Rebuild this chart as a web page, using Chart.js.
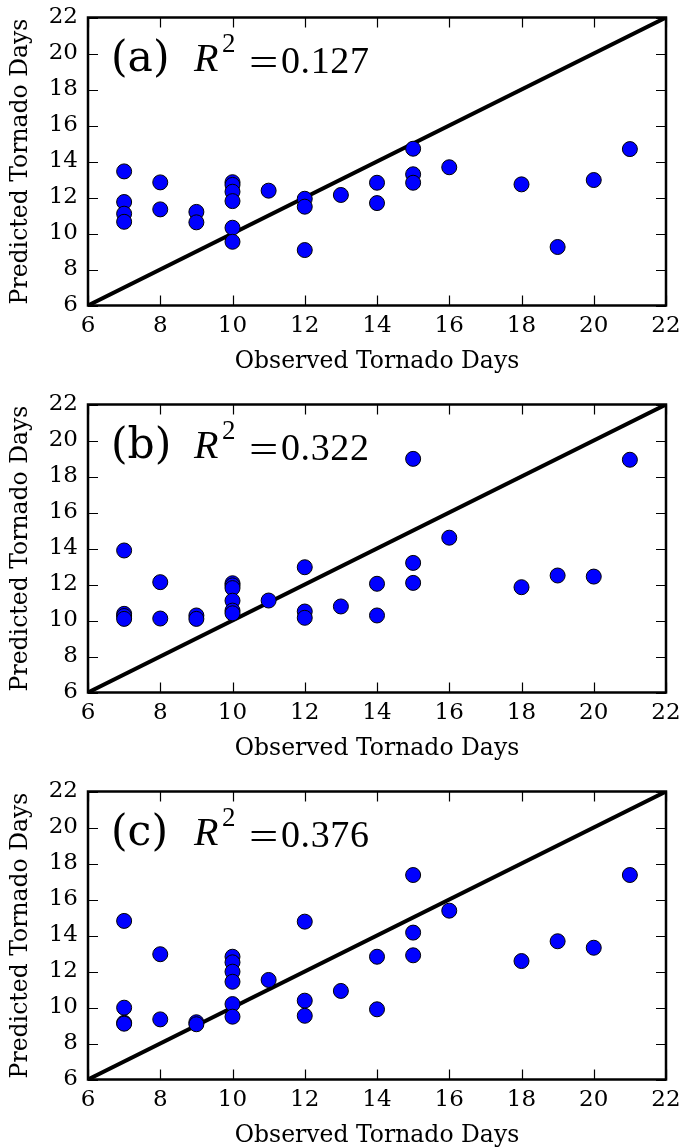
<!DOCTYPE html>
<html>
<head>
<meta charset="utf-8">
<script src="https://cdn.jsdelivr.net/npm/chart.js@4.4.0/dist/chart.umd.min.js"></script>
<style>
  html, body { margin:0; padding:0; background:#fff; overflow:hidden; width:684px; height:1148px; }
  .panel { position:absolute; left:0; width:684px; height:387px; }
  .panel canvas { position:absolute; left:0; top:0; }
  .ann { position:absolute; white-space:nowrap; color:#000; }
  .lbl { position:absolute; font-family:"DejaVu Serif"; font-size:42.5px; line-height:42.5px; }
  .rr { position:absolute; font-family:"Liberation Serif"; font-style:italic; font-size:40px; line-height:40px; }
  .sup { position:absolute; font-family:"Liberation Serif"; font-size:27px; line-height:27px; }
  .eq { position:absolute; font-family:"Liberation Serif"; font-size:40px; line-height:40px; transform:scaleX(1.3); transform-origin:0 0; }
  .val { position:absolute; font-family:"Liberation Serif"; font-size:38px; line-height:38px; letter-spacing:0.6px; }
</style>
</head>
<body>
<div class="panel" style="top:0px"><canvas id="c0" width="684" height="387"></canvas></div>
<div class="panel" style="top:387px"><canvas id="c1" width="684" height="387"></canvas></div>
<div class="panel" style="top:774px"><canvas id="c2" width="684" height="387"></canvas></div>
<script>
// ---- data ----
const observed = [7,7,7,7,8,8,9,9,10,10,10,10,10,10,11,12,12,12,13,14,14,15,15,15,16,18,19,20,21];
const predictedA = [13.45,11.75,11.1,10.65,12.84,11.34,11.2,10.62,12.85,12.7,12.32,11.8,10.32,9.54,12.38,11.93,11.49,9.08,12.14,12.82,11.69,14.71,13.29,12.82,13.68,12.73,9.25,12.97,14.69];
const predictedB = [13.89,10.37,10.25,10.09,12.13,10.11,10.28,10.09,12.07,11.95,11.8,11.1,10.55,10.4,11.11,12.96,10.5,10.15,10.78,12.04,10.28,18.98,13.2,12.09,14.6,11.85,12.5,12.44,18.93];
const predictedC = [14.81,9.99,9.15,9.1,12.96,9.34,9.18,9.07,12.82,12.51,11.99,11.43,10.19,9.49,11.53,14.77,10.38,9.54,10.92,12.82,9.9,17.36,14.16,12.9,15.38,12.58,13.68,13.32,17.36];
const panelLabels = ['(a)','(b)','(c)'];
const r2Values = ['0.127','0.322','0.376'];
const oneToOne = [6, 22];
const tickValues = [6,8,10,12,14,16,18,20,22];
const xTitle = 'Observed Tornado Days';
const yTitle = 'Predicted Tornado Days';

const frame = {
  id:'frame',
  afterDraw(chart){
    const {ctx, chartArea:a, scales:{x,y}} = chart;
    ctx.save();
    ctx.strokeStyle = '#000';
    ctx.lineWidth = 1.2;
    ctx.beginPath();
    x.ticks.forEach(t => {
      const px = Math.round(x.getPixelForValue(t.value)) + 0.5;
      ctx.moveTo(px, a.bottom); ctx.lineTo(px, a.bottom - 10);
      ctx.moveTo(px, a.top); ctx.lineTo(px, a.top + 10);
    });
    y.ticks.forEach(t => {
      const py = Math.round(y.getPixelForValue(t.value)) + 0.5;
      ctx.moveTo(a.left, py); ctx.lineTo(a.left + 10, py);
      ctx.moveTo(a.right, py); ctx.lineTo(a.right - 10, py);
    });
    ctx.stroke();
    ctx.lineWidth = 2.5;
    ctx.strokeRect(a.left, a.top, a.right - a.left, a.bottom - a.top);
    ctx.restore();
  }
};

const tickFont = {family:'DejaVu Serif', size:23};
const titleFont = {family:'DejaVu Serif', size:23.5};

function makeChart(id, preds) {
  const pts = observed.map((o,i) => ({x:o, y:preds[i]}));
  return new Chart(document.getElementById(id), {
    type:'scatter',
    data:{
      datasets:[
        {
          type:'line',
          data: oneToOne.map(v => ({x:v, y:v})),
          borderColor:'#000', borderWidth:4, pointRadius:0, fill:false, order:2
        },
        {
          data: pts,
          backgroundColor:'#0000ff', borderColor:'#000', borderWidth:1,
          pointRadius:7.5, pointHoverRadius:7.5, order:1
        }
      ]
    },
    options:{
      responsive:false, animation:false,
      devicePixelRatio:1,
      layout:{autoPadding:false, padding:{top:17.5, right:18, bottom:0, left:0}},
      plugins:{legend:{display:false}, tooltip:{enabled:false}},
      scales:{
        x:{
          type:'linear', min:6, max:22,
          afterBuildTicks: s => { s.ticks = tickValues.map(v => ({value:v})); },
          afterFit: s => { s.height = 81.5; s.paddingLeft = 0; s.paddingRight = 0; },
          grid:{display:false, drawTicks:false},
          border:{display:false},
          ticks:{font:tickFont, color:'#000', padding:7, maxRotation:0, autoSkip:false},
          title:{display:true, text:xTitle, font:titleFont, color:'#000', padding:{top:0, bottom:11}}
        },
        y:{
          type:'linear', min:6, max:22,
          afterBuildTicks: s => { s.ticks = tickValues.map(v => ({value:v})); },
          afterFit: s => { s.width = 88; s.paddingTop = 0; s.paddingBottom = 0; },
          grid:{display:false, drawTicks:false},
          border:{display:false},
          ticks:{font:tickFont, color:'#000', padding:10, autoSkip:false},
          title:{display:true, text:yTitle, font:titleFont, color:'#000', padding:{top:7, bottom:0}}
        }
      }
    },
    plugins:[frame]
  });
}

[predictedA, predictedB, predictedC].forEach((p,i) => {
  makeChart('c'+i, p);
  const panel = document.querySelectorAll('.panel')[i];
  const ann = document.createElement('div');
  ann.className = 'ann';
  ann.style.left = '0px'; ann.style.top = '0px';
  ann.innerHTML =
    '<span class="lbl" style="left:111px;top:36px">' + panelLabels[i] + '</span>' +
    '<span class="rr" style="left:194px;top:38px">R</span>' +
    '<span class="sup" style="left:222px;top:30px">2</span>' +
    '<span class="eq" style="left:248.5px;top:43px">=</span>' +
    '<span class="val" style="left:281px;top:41px">' + r2Values[i] + '</span>';
  panel.appendChild(ann);
});
</script>
</body>
</html>
